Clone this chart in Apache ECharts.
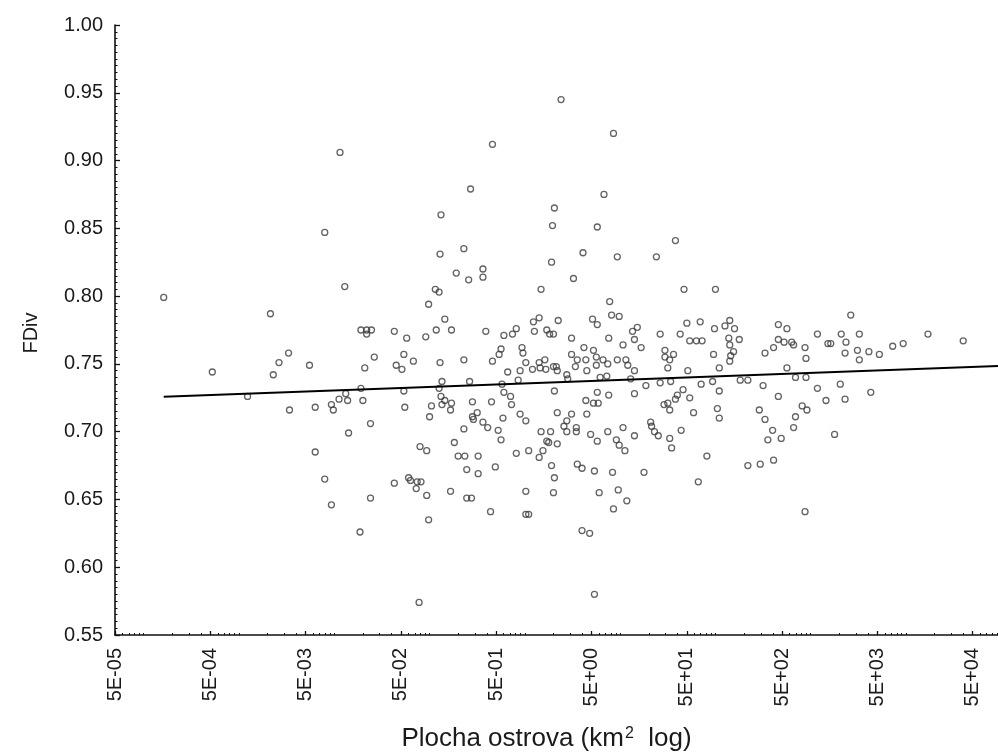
<!DOCTYPE html>
<html>
<head>
<meta charset="utf-8">
<script src="https://cdn.jsdelivr.net/npm/echarts@6/dist/echarts.min.js"></script>
<style>
html,body{margin:0;padding:0;background:#fff;}
#chart{width:998px;height:755px;}
</style>
</head>
<body>
<div id="chart"></div>
<script>
// Tick labels
const xTickLabels = ['5E-05','5E-04','5E-03','5E-02','5E-01','5E+00','5E+01','5E+02','5E+03','5E+04'];
const yTickLabels = ['0.55','0.60','0.65','0.70','0.75','0.80','0.85','0.90','0.95','1.00'];

// log10 of island area (km²) and FDiv for each island
const logArea = [
-3.79,-3.28,-2.91,-2.67,-2.64,-2.58,-2.48,-2.47,-2.26,-2.20,-2.20,-2.10,-2.03,-2.10,-1.94,
-0.34,-0.57,-0.88,-0.89,-0.64,-0.72,-0.59,-0.44,-0.44,-1.89,0.38,0.93,0.83,0.31,0.29,0.76,0.61,0.97,1.38,1.58,0.28,0.51,
-0.94,-0.90,0.17,-1.01,-0.84,-1.72,-1.66,-1.61,-1.66,-1.37,-1.24,-1.04,-0.93,-0.77,-0.41,-0.22,-0.13,-0.09,0.09,0.15,0.35,0.10,0.23,0.26,0.30,0.49,0.71,0.76,0.62,0.72,0.49,0.55,0.64,0.53,0.65,0.75,0.75,
-1.58,-1.68,-1.27,-1.35,-1.29,-1.17,-0.89,-0.64,-0.34,-0.25,-0.27,-0.03,-0.02,0.01,0.08,0.15,0.21,0.16,0.22,0.30,0.33,0.34,
-0.18,-0.05,-0.07,-0.58,-0.87,0.44,0.45,0.31,0.76,-0.22,-0.24,-0.90,-1.27,-1.72,-1.88,-1.95,-1.86,-2.03,-2.01,-1.70,-1.26,-0.98,
-0.88,-0.84,-0.87,-0.77,-0.78,-0.55,-0.35,-0.15,-0.14,0.64,0.72,0.77,0.34,0.49,0.65,-0.05,0.01,-0.23,-0.50,-0.55,-0.54,-0.44,-0.39,-0.64,
-1.00,-1.62,-1.85,-0.28,0.17,0.27,0.44,0.41,0.44,0.54,0.54,0.69,0.76,-0.25,0.23,0.25,0.19,0.15,0.34,0.04,-0.09,-0.74,-1.10,-1.03,
-0.70,-0.63,-0.49,-0.61,-0.49,-0.31,0.28,0.55,0.60,0.73,
1.67,2.00,0.89,0.91,0.99,1.18,1.13,1.15,0.88,1.03,1.22,1.42,1.63,1.70,1.84,1.73,1.80,1.86,1.99,2.10,2.15,2.20,2.14,2.15,2.25,2.19,2.16,2.15,1.98,2.04,
1.47,1.56,1.47,1.52,1.50,1.71,2.66,2.75,2.66,2.72,2.80,2.82,2.61,2.52,2.94,2.95,3.07,3.18,3.21,3.32,3.37,3.51,3.36,3.49,3.51,3.61,3.72,3.86,3.42,2.75,
0.82,0.87,0.97,1.06,1.08,1.15,0.79,0.86,1.11,1.27,1.42,1.53,1.85,1.97,2.26,2.34,2.50,2.84,2.95,3.07,3.31,3.63,
0.88,1.15,1.66,1.60,1.58,1.73,1.50,1.46,1.52,1.77,2.04,2.02,2.04,2.66,3.16,3.36,2.46,2.52,2.91,2.96,2.84,2.82,2.60,2.69,2.55,3.25,
0.87,1.03,1.15,0.96,0.99,1.05,1.32,1.33,1.36,1.40,1.52,1.54,1.64,1.91,2.34,2.47,2.61,0.92,1.25,
-1.37,-1.22,-1.20,-1.13,-1.09,-1.14,-1.03,-1.01,-0.78,-0.61,-0.56,-0.36,0.01,0.01,0.04,-1.11,-1.62,-1.73,
0.31,0.30,0.78,0.98,1.07,0.93,0.60,0.68,0.73,1.82,2.94,
4.23,4.60,3.97
];
const fdiv = [
0.799,0.744,0.726,0.787,0.742,0.751,0.758,0.716,0.749,0.718,0.685,0.665,0.646,0.847,0.906,
0.912,0.879,0.860,0.831,0.835,0.817,0.812,0.820,0.814,0.807,0.945,0.920,0.875,0.865,0.852,0.851,0.832,0.829,0.829,0.841,0.825,0.813,
0.805,0.803,0.805,0.794,0.783,0.775,0.775,0.775,0.772,0.774,0.769,0.770,0.775,0.775,0.774,0.771,0.772,0.776,0.781,0.784,0.782,0.774,0.775,0.772,0.772,0.769,0.783,0.779,0.762,0.760,0.757,0.753,0.753,0.748,0.745,0.755,0.749,
0.755,0.747,0.757,0.749,0.746,0.752,0.751,0.753,0.752,0.761,0.757,0.762,0.758,0.751,0.746,0.751,0.753,0.747,0.746,0.748,0.748,0.745,
0.744,0.745,0.738,0.737,0.737,0.742,0.739,0.730,0.729,0.729,0.735,0.732,0.730,0.732,0.728,0.724,0.723,0.720,0.716,0.723,0.718,0.719,
0.726,0.723,0.720,0.721,0.716,0.722,0.722,0.726,0.720,0.723,0.721,0.721,0.714,0.713,0.713,0.713,0.708,0.710,0.714,0.711,0.709,0.707,0.703,0.702,
0.711,0.706,0.699,0.701,0.700,0.700,0.708,0.704,0.700,0.703,0.700,0.698,0.693,0.694,0.693,0.692,0.686,0.681,0.691,0.686,0.684,0.692,0.689,0.686,
0.682,0.682,0.682,0.672,0.669,0.674,0.675,0.676,0.673,0.671,
0.805,0.805,0.796,0.786,0.785,0.777,0.774,0.768,0.769,0.764,0.762,0.772,0.772,0.780,0.781,0.767,0.767,0.767,0.776,0.778,0.782,0.776,0.769,0.764,0.768,0.759,0.756,0.752,0.757,0.747,
0.760,0.757,0.755,0.753,0.747,0.745,0.779,0.776,0.768,0.766,0.766,0.764,0.762,0.758,0.762,0.754,0.772,0.765,0.765,0.772,0.766,0.772,0.758,0.760,0.753,0.759,0.757,0.763,0.786,0.747,
0.753,0.750,0.753,0.753,0.749,0.745,0.740,0.741,0.739,0.734,0.736,0.737,0.735,0.737,0.738,0.738,0.734,0.740,0.740,0.732,0.735,0.729,
0.727,0.728,0.731,0.727,0.724,0.725,0.721,0.720,0.716,0.714,0.730,0.717,0.710,0.726,0.723,0.724,0.716,0.709,0.719,0.716,0.711,0.703,0.701,0.695,0.694,0.698,
0.700,0.703,0.697,0.694,0.690,0.686,0.707,0.704,0.700,0.697,0.695,0.688,0.701,0.682,0.675,0.676,0.679,0.670,0.670,
0.662,0.666,0.664,0.663,0.663,0.658,0.653,0.635,0.656,0.651,0.651,0.641,0.656,0.639,0.639,0.574,0.651,0.626,
0.666,0.655,0.655,0.657,0.649,0.643,0.627,0.625,0.580,0.663,0.641,
0.772,0.767,0.765
];

// Fitted regression line (end points)
const fitLogArea = [-3.79, 4.97];
const fitFDiv = [0.7258, 0.7484];

const xTickValues = xTickLabels.map(s => Math.log10(parseFloat(s)));
const yTickValues = yTickLabels.map(s => parseFloat(s));
const X_MIN = xTickValues[0];
const X_MAX = 4.965;
const minorMult = [6,7,8,9,10,20,30,40];
const xMinorValues = [];
for (let e = -5; e <= 4; e++) {
  minorMult.forEach(m => {
    const v = Math.log10(m) + e;
    if (v > X_MIN + 1e-6 && v < X_MAX) xMinorValues.push(v);
  });
}

const FONT = '"Liberation Sans", Arial, sans-serif';
const TXT = '#1a1a1a';

const chart = echarts.init(document.getElementById('chart'), null, {renderer: 'canvas'});
chart.setOption({
  animation: false,
  backgroundColor: '#ffffff',
  grid: {left: 115, right: 0, top: 25, bottom: 120, containLabel: false, outerBoundsMode: 'none'},
  xAxis: [{
    type: 'value',
    min: X_MIN,
    max: X_MAX,
    name: '{n|Plocha ostrova (km}{s|2}{n|  log)}',
    nameLocation: 'middle',
    nameGap: 91,
    nameTextStyle: {
      fontFamily: FONT, color: TXT,
      padding: [0, 20, 0, 0],
      rich: {
        n: {fontFamily: FONT, fontSize: 26, color: TXT},
        s: {fontFamily: FONT, fontSize: 16, color: TXT, verticalAlign: 'top', padding: [0, 0, 0, 1]}
      }
    },
    axisLine: {show: true, onZero: false, lineStyle: {color: '#111', width: 1.6}},
    axisTick: {show: true, inside: true, length: 4, customValues: xTickValues, lineStyle: {color: '#111', width: 1.3}},
    axisLabel: {
      show: true, customValues: xTickValues, rotate: 90, margin: 13,
      fontFamily: FONT, fontSize: 20, color: TXT,
      formatter: function (v) {
        const i = xTickValues.findIndex(t => Math.abs(t - v) < 1e-6);
        return i >= 0 ? xTickLabels[i] : '';
      }
    },
    splitLine: {show: false}
  }, {
    type: 'value',
    min: X_MIN,
    max: X_MAX,
    position: 'bottom',
    axisLine: {show: false},
    axisLabel: {show: false},
    axisTick: {show: true, inside: true, length: 2, customValues: xMinorValues, lineStyle: {color: '#111', width: 1}},
    splitLine: {show: false}
  }],
  yAxis: {
    type: 'value',
    min: yTickValues[0],
    max: yTickValues[yTickValues.length - 1],
    interval: 0.05,
    name: 'FDiv',
    nameLocation: 'middle',
    nameRotate: 90,
    nameGap: 74,
    nameTextStyle: {fontFamily: FONT, fontSize: 20, color: TXT, padding: [0, 6, 0, 0]},
    axisLine: {show: true, onZero: false, lineStyle: {color: '#111', width: 1.6}},
    axisTick: {show: true, inside: true, length: 5, lineStyle: {color: '#111', width: 1.3}},
    minorTick: {show: true, splitNumber: 10, length: 2.5, lineStyle: {color: '#111', width: 1}},
    axisLabel: {fontFamily: FONT, fontSize: 20, color: TXT, margin: 12, formatter: v => v.toFixed(2)},
    splitLine: {show: false},
    minorSplitLine: {show: false}
  },
  series: [{
    type: 'scatter',
    xAxisIndex: 0,
    data: logArea.map((x, i) => [x, fdiv[i]]),
    symbol: 'circle',
    symbolSize: 6,
    itemStyle: {color: 'rgba(0,0,0,0)', borderColor: '#3c3c3c', borderWidth: 1.3},
    silent: true
  }, {
    type: 'line',
    xAxisIndex: 0,
    data: fitLogArea.map((x, i) => [x, fitFDiv[i]]),
    showSymbol: false,
    symbol: 'none',
    lineStyle: {color: '#000', width: 2},
    silent: true,
    z: 3
  }]
});
</script>
</body>
</html>
